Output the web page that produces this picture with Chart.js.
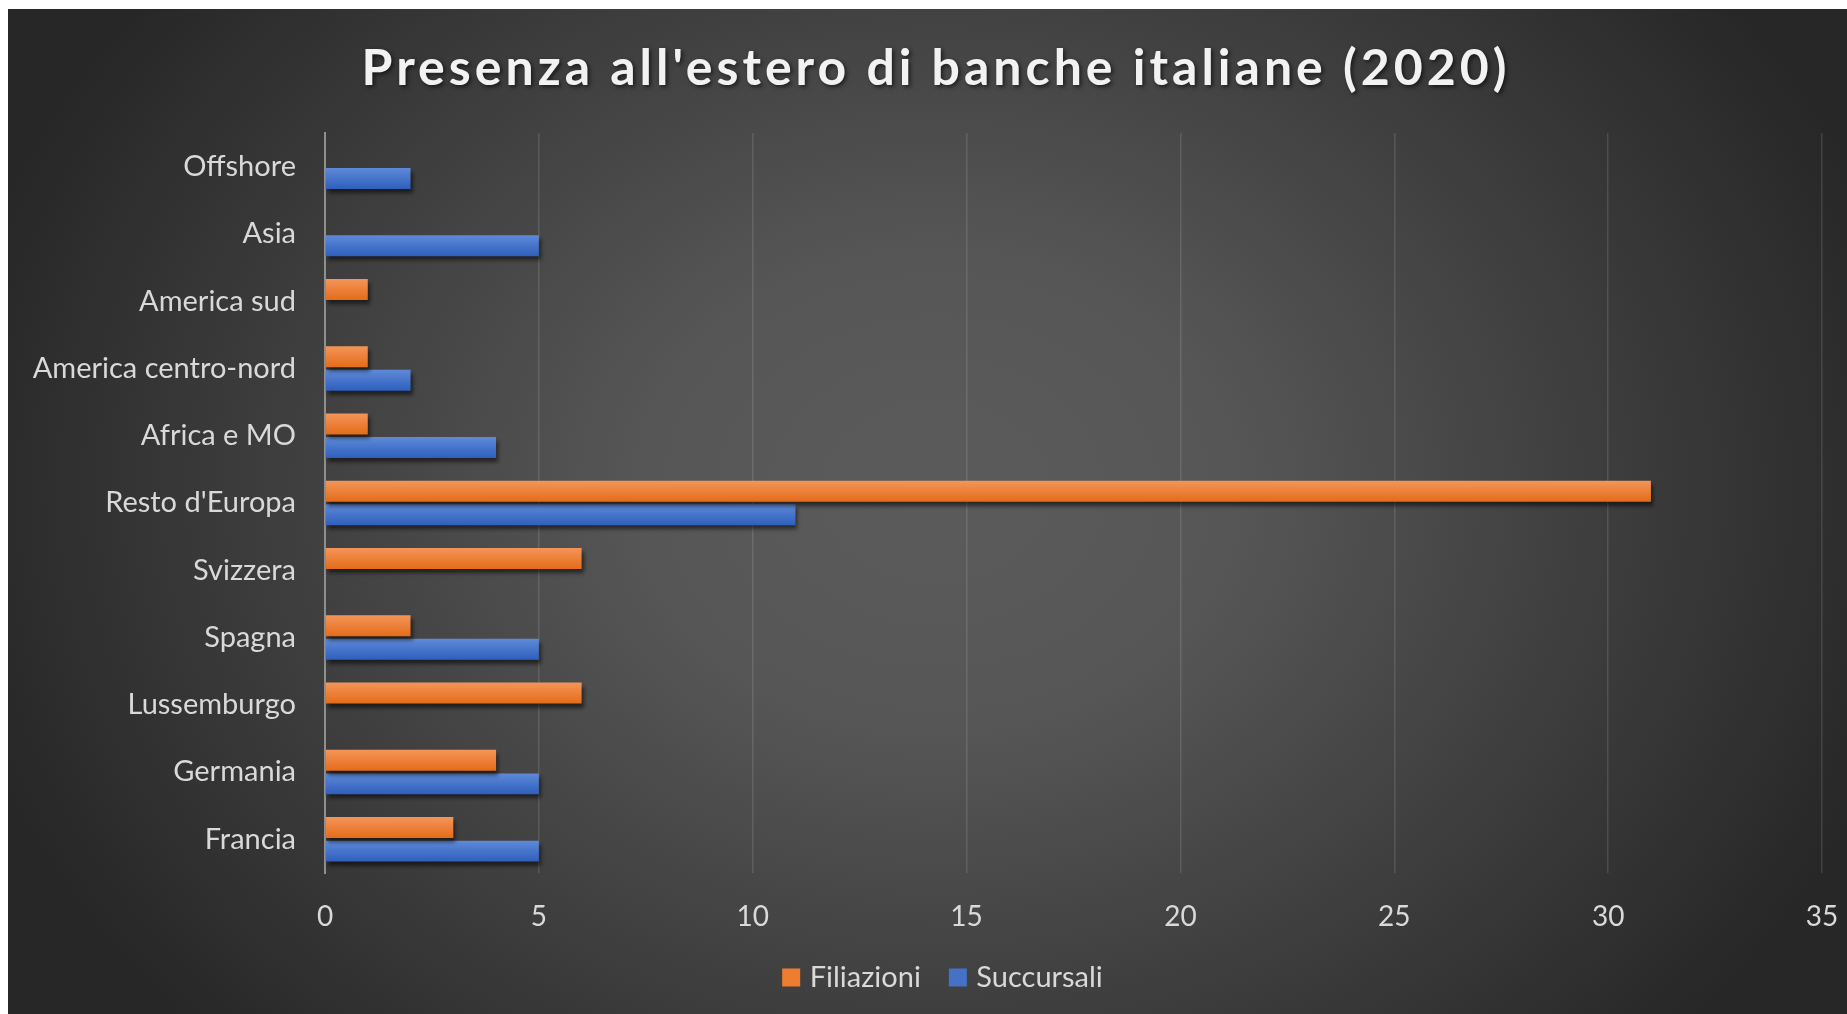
<!DOCTYPE html>
<html>
<head>
<meta charset="utf-8">
<script src="https://cdn.jsdelivr.net/npm/chart.js@4.4.1/dist/chart.umd.min.js"></script>
<style>
  html, body { margin: 0; padding: 0; background: #ffffff; overflow: hidden; }
  #wrap { position: absolute; left: 8px; top: 9px; width: 1839px; height: 1005px; }
  canvas { display: block; }
</style>
</head>
<body>
<div id="wrap"><canvas id="chart" width="1839" height="1005"></canvas></div>
<script>
// Regions, listed top to bottom as they appear on the axis
const categories = [
  'Offshore', 'Asia', 'America sud', 'America centro-nord', 'Africa e MO',
  "Resto d'Europa", 'Svizzera', 'Spagna', 'Lussemburgo', 'Germania', 'Francia'
];
const filiazioni = [0, 0, 1, 1, 1, 31, 6, 2, 6, 4, 3];
const succursali = [2, 5, 0, 2, 4, 11, 0, 5, 0, 5, 5];
const xTicks = [0, 5, 10, 15, 20, 25, 30, 35];

const chartTitle = "Presenza all'estero di banche italiane (2020)";

// Vertical gradient per bar, built from the bar element's own geometry
function barFill(top, bottom, solid) {
  return function (ctx) {
    const el = ctx.element;
    if (!el || typeof el.y !== 'number' || !isFinite(el.y) || !el.height) return solid;
    const c = ctx.chart.ctx;
    const g = c.createLinearGradient(0, el.y - el.height / 2, 0, el.y + el.height / 2);
    g.addColorStop(0, top);
    g.addColorStop(1, bottom);
    return g;
  };
}

// Dark radial backdrop behind the whole chart
const backdrop = {
  id: 'backdrop',
  beforeDraw(chart) {
    const { ctx, width, height } = chart;
    ctx.save();
    const cx = width * 0.505, cy = height * 0.48;
    const rx = 1000, ry = 800;
    ctx.translate(cx, cy);
    ctx.scale(rx / ry, 1);
    const g = ctx.createRadialGradient(0, 0, 0, 0, 0, ry);
    g.addColorStop(0, '#5b5b5b');
    g.addColorStop(0.3, '#565656');
    g.addColorStop(1, '#272727');
    ctx.fillStyle = g;
    ctx.fillRect(-cx * ry / rx - 10, -cy - 10, width * ry / rx + 20, height + 20);
    ctx.restore();
  }
};

// Soft drop shadow under the bars
const barShadow = {
  id: 'barShadow',
  beforeDatasetsDraw(chart) {
    const ctx = chart.ctx;
    ctx.save();
    ctx.shadowColor = 'rgba(0,0,0,0.55)';
    ctx.shadowBlur = 4;
    ctx.shadowOffsetX = 2;
    ctx.shadowOffsetY = 4;
  },
  afterDatasetsDraw(chart) {
    chart.ctx.restore();
  }
};

const labelColor = '#d9d9d9';

const chart = new Chart(document.getElementById('chart'), {
  type: 'bar',
  data: {
    labels: categories,
    datasets: [
      {
        label: 'Filiazioni',
        data: filiazioni,
        backgroundColor: barFill('#f4955a', '#e46c19', '#ef7d2f'),
        borderWidth: 0,
        categoryPercentage: 0.70,
        barPercentage: 0.89
      },
      {
        label: 'Succursali',
        data: succursali,
        backgroundColor: barFill('#5e8ad8', '#2f5fbd', '#4472c4'),
        borderWidth: 0,
        categoryPercentage: 0.70,
        barPercentage: 0.89
      }
    ]
  },
  options: {
    indexAxis: 'y',
    responsive: false,
    animation: false,
    layout: { padding: { left: 0, right: 25, top: 0, bottom: 12 } },
    plugins: {
      title: {
        display: true,
        text: chartTitle,
        color: '#f2f2f2',
        font: { family: 'Lato', size: 50, weight: 'bold' },
        padding: { top: 30, bottom: 34 }
      },
      legend: {
        display: true,
        position: 'bottom',
        labels: {
          color: labelColor,
          font: { family: 'Lato', size: 29 },
          usePointStyle: true,
          boxWidth: 8,
          boxHeight: 18,
          padding: 33,
          generateLabels(chart) {
            const solids = ['#ef7d2f', '#4472c4'];
            return chart.data.datasets.map((ds, i) => ({
              text: ds.label,
              fillStyle: solids[i],
              strokeStyle: solids[i],
              lineWidth: 0,
              pointStyle: 'rect',
              rotation: 0,
              hidden: !chart.isDatasetVisible(i),
              datasetIndex: i,
              fontColor: labelColor
            }));
          }
        }
      },
      tooltip: { enabled: false }
    },
    scales: {
      x: {
        min: 0,
        max: 35,
        afterBuildTicks(scale) {
          scale.ticks = xTicks.map(v => ({ value: v }));
        },
        afterFit(scale) {
          scale.height = 57;
          scale.paddingLeft = 0;
          scale.paddingRight = 0;
        },
        ticks: {
          color: labelColor,
          font: { family: 'Lato', size: 28 },
          padding: 27
        },
        grid: {
          color: 'rgba(255,255,255,0.12)',
          lineWidth: 1.5,
          drawTicks: false
        },
        border: { display: false }
      },
      y: {
        afterFit(scale) { scale.width = 317; },
        ticks: {
          color: labelColor,
          font: { family: 'Lato', size: 29 },
          padding: 29
        },
        grid: { display: false, drawTicks: false },
        border: { display: true, color: '#8f8f8f', width: 2 }
      }
    }
  },
  plugins: [backdrop, barShadow]
});

// Title gets letter spacing and a soft shadow, set slightly right of centre
const titleBox = chart.titleBlock;
if (titleBox) {
  const drawTitle = titleBox.draw.bind(titleBox);
  titleBox.draw = function () {
    const ctx = chart.ctx;
    ctx.save();
    ctx.translate(21, 0);
    ctx.letterSpacing = '4px';
    ctx.shadowColor = 'rgba(0,0,0,0.6)';
    ctx.shadowBlur = 4;
    ctx.shadowOffsetX = 2;
    ctx.shadowOffsetY = 2;
    drawTitle();
    ctx.restore();
  };
}
// Legend row sits a little right of centre
const legendBox = chart.legend;
if (legendBox) {
  const drawLegend = legendBox.draw.bind(legendBox);
  legendBox.draw = function () {
    const ctx = chart.ctx;
    ctx.save();
    ctx.translate(30, 0);
    drawLegend();
    ctx.restore();
  };
}
chart.update('none');
</script>
</body>
</html>
